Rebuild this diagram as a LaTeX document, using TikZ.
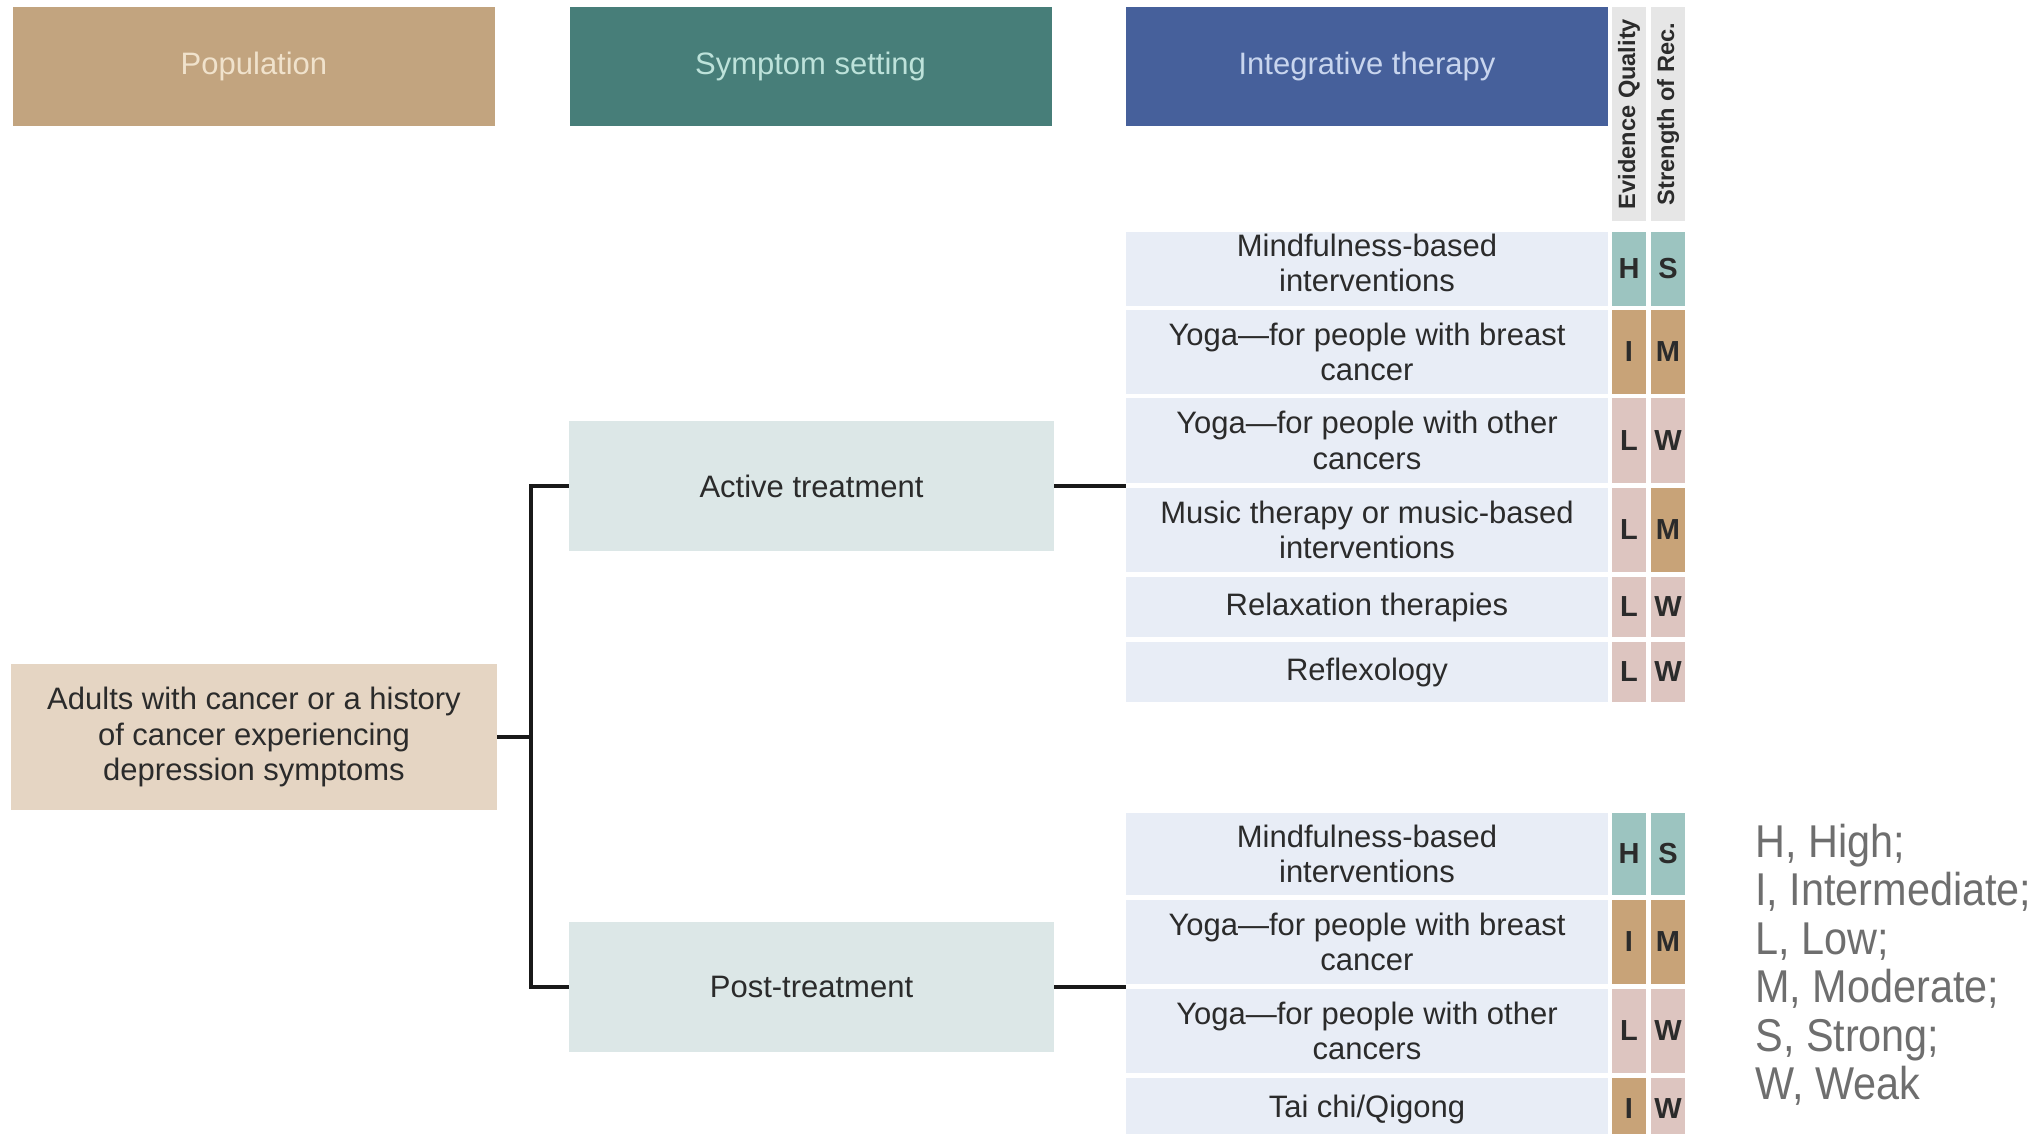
\documentclass[tikz,border=0pt]{standalone}
\usepackage{fontspec}
\setmainfont{Liberation Sans}
\newfontfamily\legendfamily[FakeStretch=0.9]{Liberation Sans}
\definecolor{poptan}{HTML}{C2A47F}
\definecolor{setteal}{HTML}{477E79}
\definecolor{intblue}{HTML}{46609B}
\definecolor{poplight}{HTML}{E5D5C3}
\definecolor{setlight}{HTML}{DCE7E7}
\definecolor{rowbg}{HTML}{E8EDF6}
\definecolor{hdgray}{HTML}{E6E6E6}
\definecolor{cH}{HTML}{9CC4C0}
\definecolor{cI}{HTML}{C8A378}
\definecolor{cL}{HTML}{DDC5C0}
\definecolor{txt}{HTML}{2B2B2B}
\definecolor{poptxt}{HTML}{F0E2CC}
\definecolor{settxt}{HTML}{BDE2DA}
\definecolor{inttxt}{HTML}{C8D5EE}
\definecolor{legtxt}{HTML}{6E6E6E}
\newcommand\myrowfont{\fontsize{15.5}{17.6}\selectfont}
\newcommand\myletfont{\fontsize{14.5}{16}\selectfont\bfseries}
\newcommand\myvertfont{\fontsize{11.8}{13}\selectfont\bfseries}
\newcommand\mylegfont{\legendfamily\fontsize{23}{26}\selectfont}
\begin{document}
\begin{tikzpicture}[x=0.5pt,y=-0.5pt,
  box/.style={rectangle, inner sep=0pt, align=center, text=txt, font=\myrowfont},
  hdr/.style={box, minimum width=241pt, minimum height=59.5pt},
  row/.style={box, fill=rowbg, minimum width=241pt},
  gc/.style={box, minimum width=17pt, font=\myletfont},
  vhd/.style={box, fill=hdgray, minimum width=17pt, minimum height=107pt, font=\myvertfont},
  legend/.style={inner sep=0pt, text=legtxt, font=\mylegfont},
  conn/.style={line width=1.8pt, black!90, line join=miter}
]
\useasboundingbox (0,0) rectangle (2042,1134);

% headers
\node[hdr, fill=poptan, text=poptxt] (pophead) at (254,66.5) {Population};
\node[hdr, fill=setteal, text=settxt] (sethead) at (810.5,66.5) {Symptom setting};
\node[hdr, fill=intblue, text=inttxt] (inthead) at (1367,66.5) {Integrative therapy};
\node[vhd] (eqhead) at (1629,114) {\rotatebox{90}{Evidence Quality}};
\node[vhd] (srhead) at (1668,114) {\rotatebox{90}{Strength of Rec.}};

% population and settings
\node[box, fill=poplight, minimum width=243pt, minimum height=73pt] (pop) at (254,737)
  {Adults with cancer or a history\\of cancer experiencing\\depression symptoms};
\node[box, fill=setlight, minimum width=242.5pt, minimum height=65pt] (act) at (811.5,486) {Active treatment};
\node[box, fill=setlight, minimum width=242.5pt, minimum height=65pt] (post) at (811.5,987) {Post-treatment};

% active treatment rows
\node[row, minimum height=37pt,
  label={[box, name=a1t, yshift=3pt]center:{Mindfulness-based\\interventions}}] (a1) at (1367,269) {};
\node[gc, fill=cH, minimum height=37pt] (a1e) at (1629,269) {H};
\node[gc, fill=cH, minimum height=37pt] (a1s) at (1668,269) {S};

\node[row, minimum height=42pt] (a2) at (1367,352) {Yoga---for people with breast\\cancer};
\node[gc, fill=cI, minimum height=42pt] (a2e) at (1629,352) {I};
\node[gc, fill=cI, minimum height=42pt] (a2s) at (1668,352) {M};

\node[row, minimum height=42.5pt] (a3) at (1367,440.5) {Yoga---for people with other\\cancers};
\node[gc, fill=cL, minimum height=42.5pt] (a3e) at (1629,440.5) {L};
\node[gc, fill=cL, minimum height=42.5pt] (a3s) at (1668,440.5) {W};

\node[row, minimum height=42pt] (a4) at (1367,530) {Music therapy or music-based\\interventions};
\node[gc, fill=cL, minimum height=42pt] (a4e) at (1629,530) {L};
\node[gc, fill=cI, minimum height=42pt] (a4s) at (1668,530) {M};

\node[row, minimum height=30pt] (a5) at (1367,607) {Relaxation therapies};
\node[gc, fill=cL, minimum height=30pt] (a5e) at (1629,607) {L};
\node[gc, fill=cL, minimum height=30pt] (a5s) at (1668,607) {W};

\node[row, minimum height=30pt] (a6) at (1367,672) {Reflexology};
\node[gc, fill=cL, minimum height=30pt] (a6e) at (1629,672) {L};
\node[gc, fill=cL, minimum height=30pt] (a6s) at (1668,672) {W};

% post-treatment rows
\node[row, minimum height=41pt] (p1) at (1367,854) {Mindfulness-based\\interventions};
\node[gc, fill=cH, minimum height=41pt] (p1e) at (1629,854) {H};
\node[gc, fill=cH, minimum height=41pt] (p1s) at (1668,854) {S};

\node[row, minimum height=42pt] (p2) at (1367,942) {Yoga---for people with breast\\cancer};
\node[gc, fill=cI, minimum height=42pt] (p2e) at (1629,942) {I};
\node[gc, fill=cI, minimum height=42pt] (p2s) at (1668,942) {M};

\node[row, minimum height=42pt] (p3) at (1367,1031) {Yoga---for people with other\\cancers};
\node[gc, fill=cL, minimum height=42pt] (p3e) at (1629,1031) {L};
\node[gc, fill=cL, minimum height=42pt] (p3s) at (1668,1031) {W};

\node[row, minimum height=31pt] (p4) at (1367,1109) {Tai chi/Qigong};
\node[gc, fill=cI, minimum height=31pt] (p4e) at (1629,1109) {I};
\node[gc, fill=cL, minimum height=31pt] (p4s) at (1668,1109) {W};

% connectors
\coordinate (jt) at (531,737);
\draw[conn] (pop.east) -- (jt);
\draw[conn] (act.west) -| (jt) |- (post.west);
\draw[conn] (act.east) -- (act.east -| a3.west);
\draw[conn] (post.east) -- (post.east -| p2.west);

% legend
\node[legend, anchor=base west] (lg1) at (1755,857) {H, High;};
\node[legend, anchor=base west] (lg2) at (1755,905.5) {I, Intermediate;};
\node[legend, anchor=base west] (lg3) at (1755,954) {L, Low;};
\node[legend, anchor=base west] (lg4) at (1755,1002.5) {M, Moderate;};
\node[legend, anchor=base west] (lg5) at (1755,1051) {S, Strong;};
\node[legend, anchor=base west] (lg6) at (1755,1099.5) {W, Weak};
\end{tikzpicture}
\end{document}
